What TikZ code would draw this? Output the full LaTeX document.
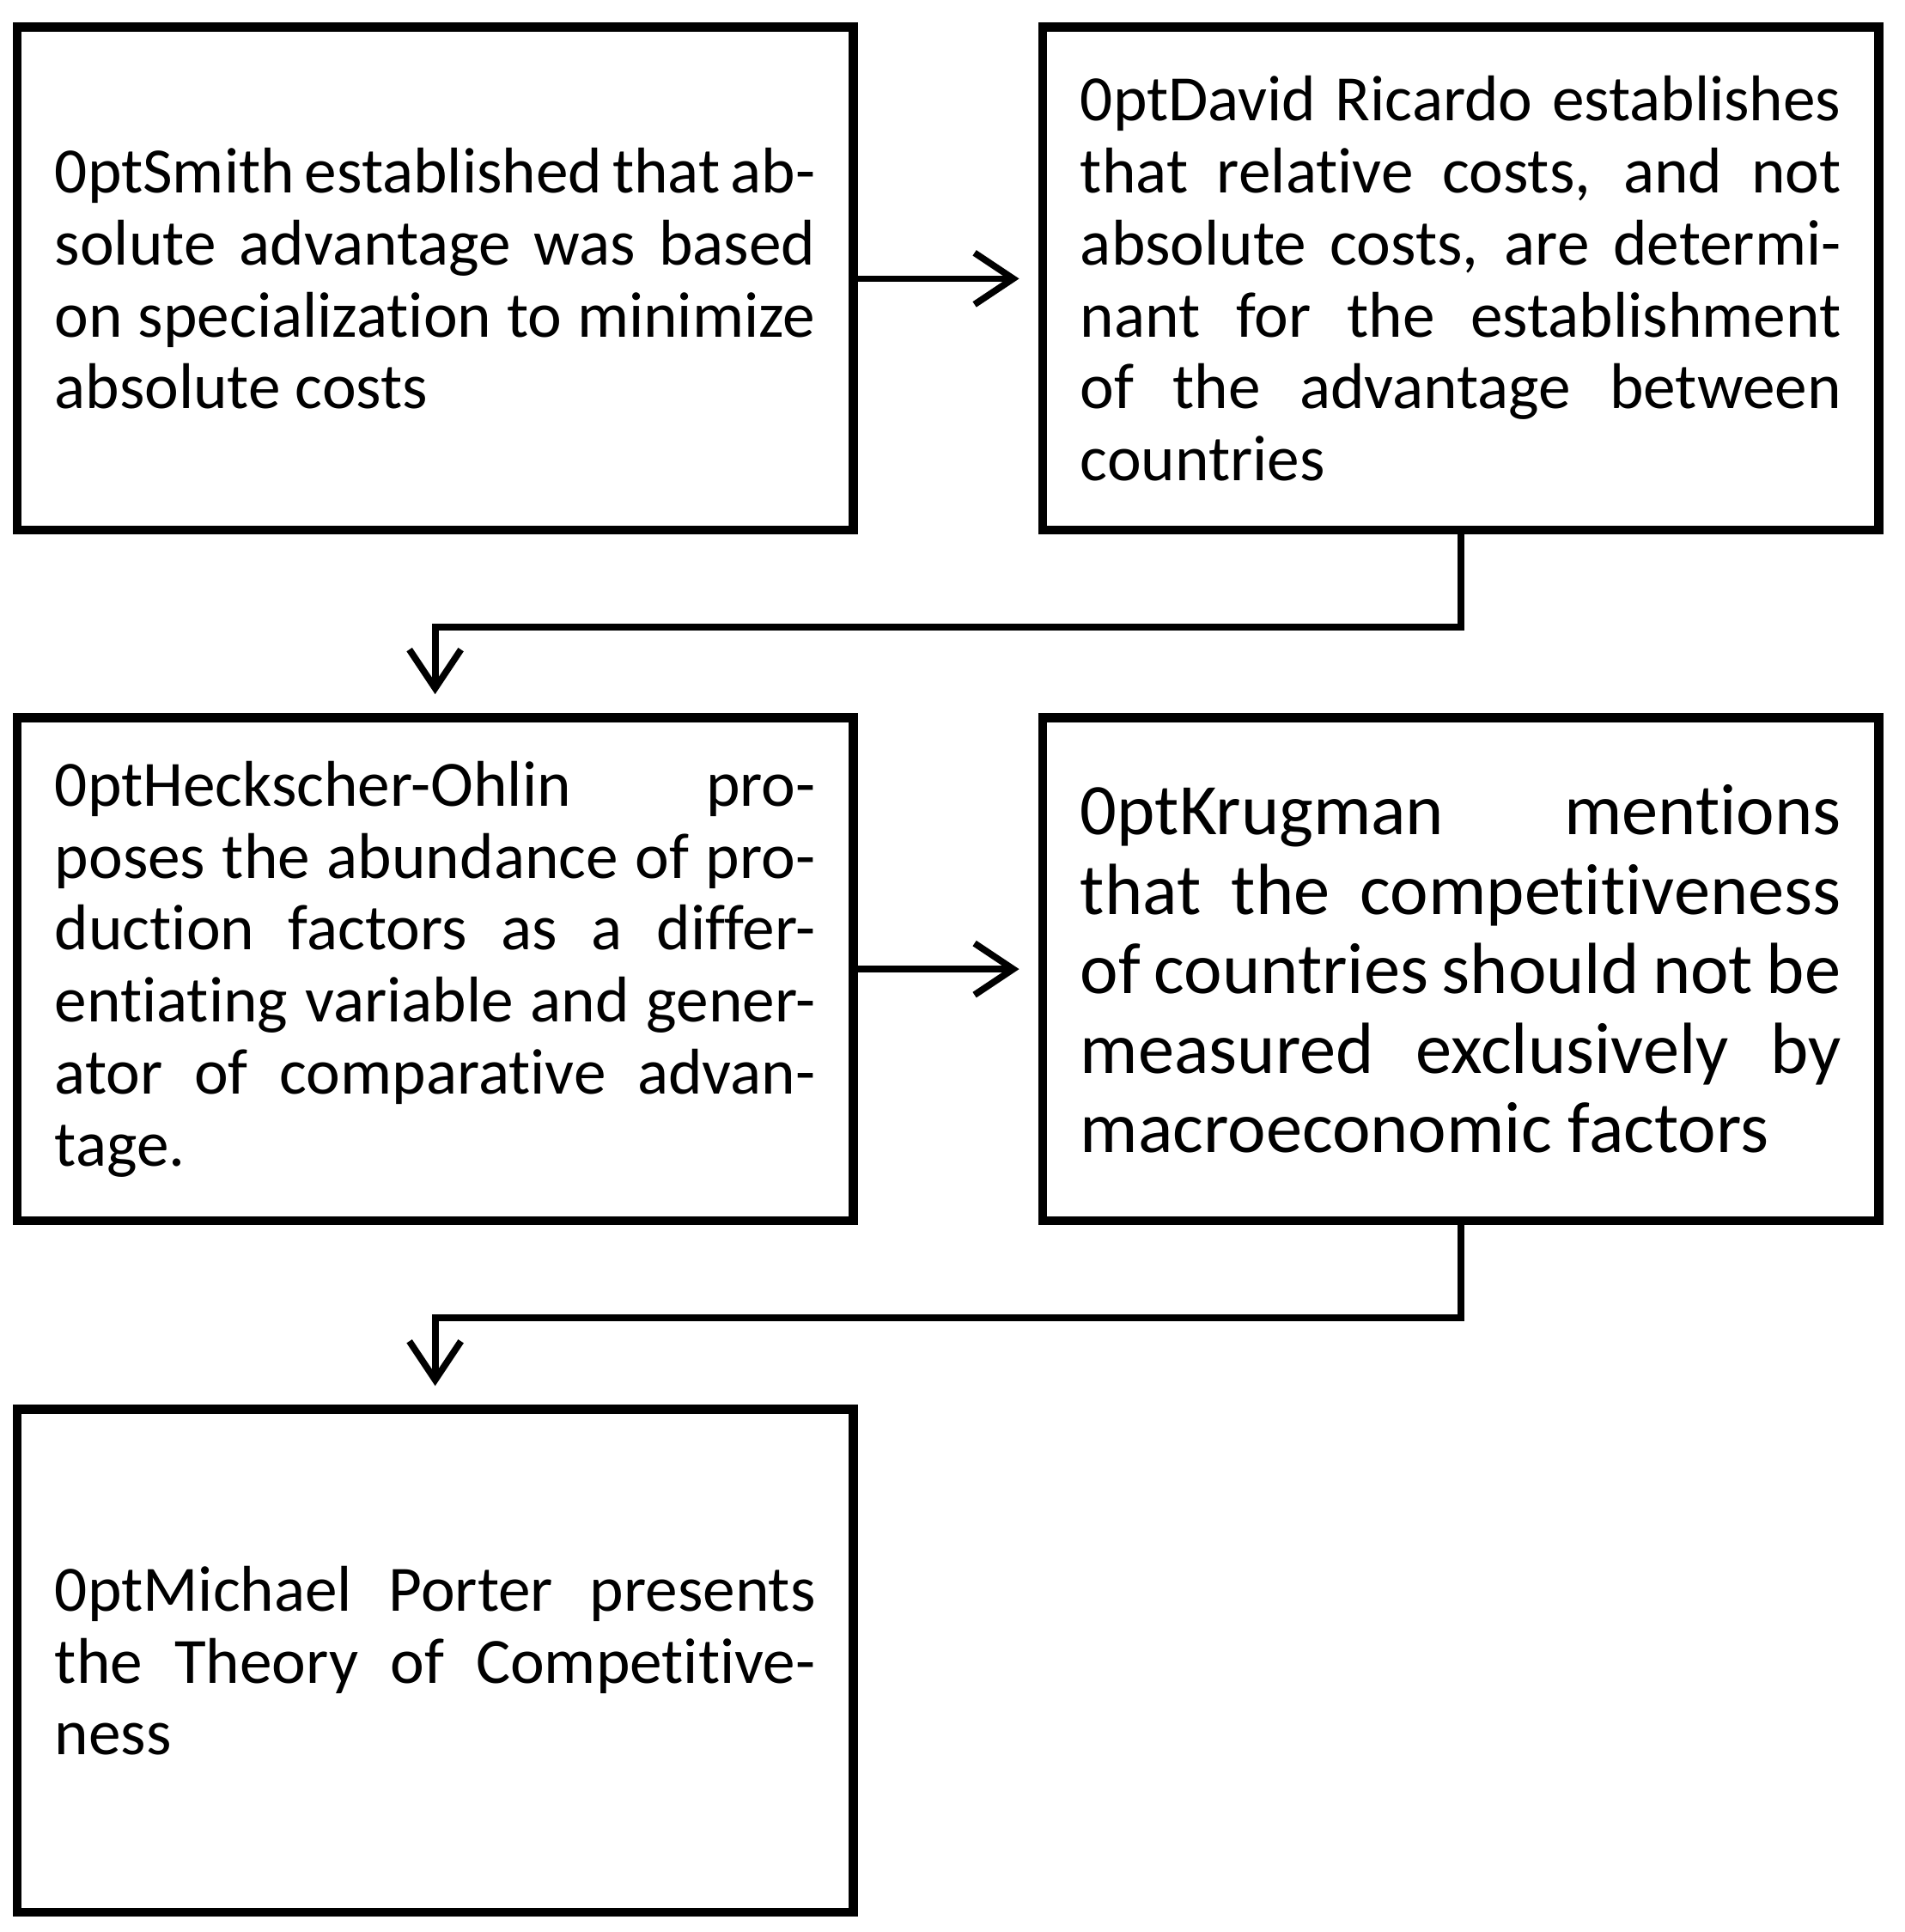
\documentclass[tikz,border=0pt]{standalone}
\usepackage{fontspec}
\setmainfont{Carlito}[Ligatures={NoCommon}]
\usetikzlibrary{arrows.meta,calc,positioning}

\tikzset{
    stage/.style={draw, line width=3pt, minimum width=9.73cm, minimum height=5.85cm,
        text width=8.85cm, align=justify, inner sep=0pt,
        font=\fontsize{21.4}{23.8}\selectfont\hyphenpenalty=10000\tolerance=10000},
    flow/.style={line width=2.2pt, -{Straight Barb[length=0.45cm,width=0.6cm,line width=2.2pt]},
        shorten >=0.22cm},
}

\begin{document}
\begin{tikzpicture}[x=0.01435cm,y=-0.01435cm]
    \useasboundingbox (0,0) rectangle (1545,1567);

    \node[stage] (Smith) at (353,226)
        {Smith established that absolute advantage was based on specialization to minimize absolute costs};
    \node[stage] (Ricardo) at (1185,226)
        {David Ricardo establishes that relative costs, and not absolute costs, are determinant for the establishment of the advantage between countries};
    \node[stage] (Heckscher) at (353,786)
        {Heckscher-Ohlin proposes the abundance of production factors as a differentiating variable and generator of comparative advantage.};
    \node[stage, font=\fontsize{24}{26.3}\selectfont\hyphenpenalty=10000\tolerance=10000] (Krugman) at (1185,786)
        {Krugman mentions that the competitiveness of countries should not be measured exclusively by macroeconomic factors};
    \node[stage] (Porter) at (353,1347)
        {Michael Porter presents the Theory of Competitiveness};

    \draw[flow] (Smith) -- (Ricardo);
    \draw[flow] (Heckscher) -- (Krugman);
    \draw[flow] (Ricardo.south) -- ++(0,75) -| (Heckscher.north);
    \draw[flow] (Krugman.south) -- ++(0,75) -| (Porter.north);
\end{tikzpicture}
\end{document}
